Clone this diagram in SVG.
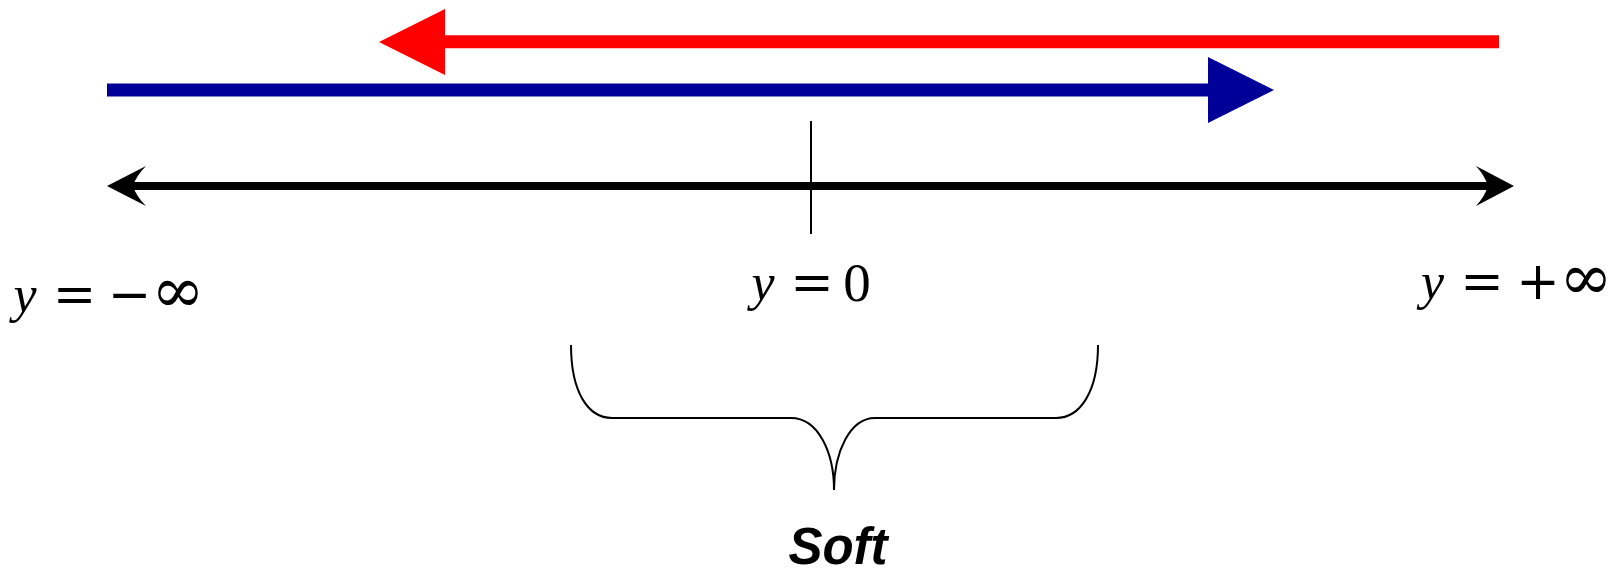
<svg xmlns="http://www.w3.org/2000/svg" width="1619" height="570" viewBox="0 0 1619 570">
<style>
.mi{font-family:"Liberation Serif",serif;font-style:italic;font-size:52px;text-anchor:middle}
.mo{font-family:"DejaVu Serif",serif;font-size:52px;text-anchor:middle}
.inf{font-family:"DejaVu Serif",serif;font-size:64px;text-anchor:middle}
.num{font-family:"Liberation Serif",serif;font-size:55px;text-anchor:middle}
.soft{font-family:"Liberation Sans",Arial,sans-serif;font-weight:bold;font-style:italic;font-size:51px;text-anchor:middle}
</style>
<rect width="1619" height="570" fill="#fff"/>
<g id="connectors">
  <g id="red-arrow">
    <line x1="444" y1="41.8" x2="1499" y2="41.8" stroke="#ff0000" stroke-width="13"/>
    <polygon points="379,42 445,9 445,75" fill="#ff0000"/>
  </g>
  <g id="blue-arrow">
    <line x1="107" y1="90" x2="1209" y2="90" stroke="#000099" stroke-width="13"/>
    <polygon points="1208,57 1274,90 1208,123" fill="#000099"/>
  </g>
  <g id="axis">
    <line x1="130" y1="186" x2="1490" y2="186" stroke="#000" stroke-width="8"/>
    <path d="M107,186 L146,166 Q136,176 133,186 Q136,196 146,206 Z" fill="#000"/>
    <path d="M1514,186 L1476,166 Q1485,176 1488,186 Q1485,196 1476,206 Z" fill="#000"/>
    <line x1="811" y1="121" x2="811" y2="234" stroke="#000" stroke-width="2"/>
  </g>
  <g id="brace">
    <path d="M571,345 C571,392 588,418 612,418 L791,418 C818,418 834,452 834,490 C834,452 850,418 875,418 L1056,418 C1080,418 1098,392 1098,345" fill="none" stroke="#000" stroke-width="2"/>
  </g>
</g>
<g id="label-neg-inf">
  <text class="mi" x="25" y="312">y</text>
  <text class="mo" x="74.5" y="312">=</text>
  <text class="mo" x="129.5" y="312">−</text>
  <text class="inf" x="178" y="312">∞</text>
</g>
<g id="label-zero">
  <text class="mi" x="763" y="300">y</text>
  <text class="mo" x="812" y="300">=</text>
  <text class="num" x="857" y="301">0</text>
</g>
<g id="label-pos-inf">
  <text class="mi" x="1432.5" y="299">y</text>
  <text class="mo" x="1482" y="299">=</text>
  <text class="mo" x="1538" y="299">+</text>
  <text class="inf" x="1586" y="299">∞</text>
</g>
<g id="label-soft">
  <text class="soft" x="838" y="564">Soft</text>
</g>
</svg>
